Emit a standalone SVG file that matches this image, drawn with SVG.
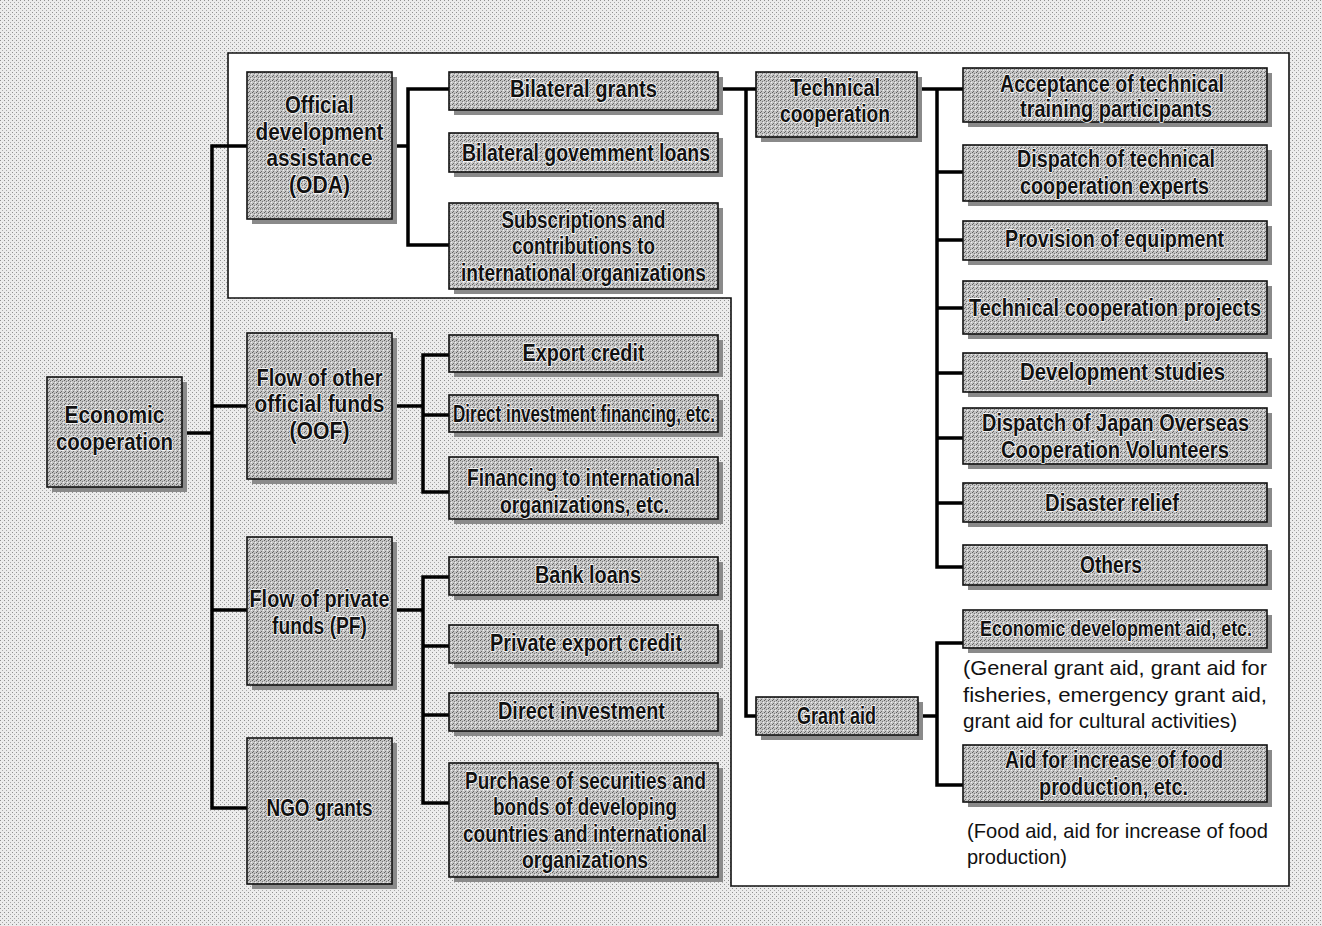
<svg xmlns="http://www.w3.org/2000/svg" width="1322" height="926" viewBox="0 0 1322 926">
<defs>
<pattern id="bgpat" width="4" height="4" patternUnits="userSpaceOnUse">
<rect width="4" height="4" fill="#ececec"/>
<rect x="0" y="0" width="1" height="1" fill="#8f8f8f"/>
<rect x="2" y="2" width="1" height="1" fill="#a8a8a8"/>
</pattern>
<pattern id="boxpat" width="4" height="4" patternUnits="userSpaceOnUse">
<rect width="4" height="4" fill="#c4c4c4"/>
<rect x="0" y="0" width="1" height="1" fill="#5e5e5e"/>
<rect x="2" y="1" width="1" height="1" fill="#7a7a7a"/>
<rect x="1" y="3" width="1" height="1" fill="#6a6a6a"/>
<rect x="3" y="2" width="1" height="1" fill="#f0f0f0"/>
</pattern>
<style>
.box{fill:url(#boxpat);stroke:#111;stroke-width:1.6}
.sh{fill:#8a8a8a}
.t{font-family:"Liberation Sans",Arial,sans-serif;font-weight:bold;font-size:23px;fill:#111;text-anchor:middle;stroke:#fff;stroke-width:1.6;paint-order:stroke;stroke-linejoin:round}
.n{font-family:"Liberation Sans",Arial,sans-serif;font-size:21px;fill:#111}
.c{fill:none;stroke:#000;stroke-width:3.5;stroke-linecap:square}
.frame{fill:#fff;stroke:#111;stroke-width:1.6}
</style>
</defs>
<rect width="1322" height="926" fill="url(#bgpat)"/>
<polygon class="frame" points="228,53 1289,53 1289,886 731,886 731,298 228,298"/>

<g id="connectors">
<path class="c" d="M182,433 H212 M212,146 V808 M212,146 H247 M212,406 H247 M212,610 H247 M212,808 H247"/>
<path class="c" d="M392,146 H408 M408,89 V245 M408,89 H449 M408,245 H449"/>
<path class="c" d="M392,406 H423 M423,355 V492 M423,355 H449 M423,415 H449 M423,492 H449"/>
<path class="c" d="M392,610 H423 M423,577 V803 M423,577 H449 M423,646 H449 M423,715 H449 M423,803 H449"/>
<path class="c" d="M718,89 H756 M746,89 V716 H756"/>
<path class="c" d="M917,89 H963 M937,89 V567 M937,172 H963 M937,240 H963 M937,308 H963 M937,373 H963 M937,438 H963 M937,503 H963 M937,567 H963"/>
<path class="c" d="M918,716 H937 M937,643 V785 M937,643 H963 M937,785 H963"/>
</g>

<g id="n-economic"><rect class="sh" x="52" y="382" width="135" height="110"/><rect class="box" x="47" y="377" width="135" height="110"/><text class="t" x="114.5" y="423" textLength="100" lengthAdjust="spacingAndGlyphs">Economic</text><text class="t" x="114.5" y="450" textLength="117" lengthAdjust="spacingAndGlyphs">cooperation</text></g>

<g id="n-oda"><rect class="sh" x="252" y="77" width="145" height="147"/><rect class="box" x="247" y="72" width="145" height="147"/><text class="t" x="319.5" y="113" textLength="69" lengthAdjust="spacingAndGlyphs">Official</text><text class="t" x="319.5" y="140" textLength="128" lengthAdjust="spacingAndGlyphs">development</text><text class="t" x="319.5" y="166" textLength="106" lengthAdjust="spacingAndGlyphs">assistance</text><text class="t" x="319.5" y="193" textLength="61" lengthAdjust="spacingAndGlyphs">(ODA)</text></g>

<g id="n-oof"><rect class="sh" x="252" y="338" width="145" height="146"/><rect class="box" x="247" y="333" width="145" height="146"/><text class="t" x="319.5" y="386" textLength="126" lengthAdjust="spacingAndGlyphs">Flow of other</text><text class="t" x="319.5" y="412" textLength="130" lengthAdjust="spacingAndGlyphs">official funds</text><text class="t" x="319.5" y="439" textLength="60" lengthAdjust="spacingAndGlyphs">(OOF)</text></g>

<g id="n-pf"><rect class="sh" x="252" y="542" width="145" height="148"/><rect class="box" x="247" y="537" width="145" height="148"/><text class="t" x="319.5" y="607" textLength="140" lengthAdjust="spacingAndGlyphs">Flow of private</text><text class="t" x="319.5" y="634" textLength="95" lengthAdjust="spacingAndGlyphs">funds (PF)</text></g>

<g id="n-ngo"><rect class="sh" x="252" y="743" width="145" height="146"/><rect class="box" x="247" y="738" width="145" height="146"/><text class="t" x="319.5" y="816" textLength="106" lengthAdjust="spacingAndGlyphs">NGO grants</text></g>

<g id="n-bilateral-grants"><rect class="sh" x="454" y="77" width="269" height="38"/><rect class="box" x="449" y="72" width="269" height="38"/><text class="t" x="583.5" y="97" textLength="147" lengthAdjust="spacingAndGlyphs">Bilateral grants</text></g>

<g id="n-bilateral-loans"><rect class="sh" x="454" y="138" width="269" height="39"/><rect class="box" x="449" y="133" width="269" height="39"/><text class="t" x="586" y="161" textLength="248" lengthAdjust="spacingAndGlyphs">Bilateral govemment loans</text></g>

<g id="n-subscriptions"><rect class="sh" x="454" y="208" width="269" height="86"/><rect class="box" x="449" y="203" width="269" height="86"/><text class="t" x="583.5" y="228" textLength="164" lengthAdjust="spacingAndGlyphs">Subscriptions and</text><text class="t" x="583.5" y="254" textLength="143" lengthAdjust="spacingAndGlyphs">contributions to</text><text class="t" x="583.5" y="281" textLength="245" lengthAdjust="spacingAndGlyphs">international organizations</text></g>

<g id="n-export-credit"><rect class="sh" x="454" y="340" width="269" height="37"/><rect class="box" x="449" y="335" width="269" height="37"/><text class="t" x="583.5" y="361" textLength="122" lengthAdjust="spacingAndGlyphs">Export credit</text></g>

<g id="n-dif"><rect class="sh" x="454" y="400" width="269" height="37"/><rect class="box" x="449" y="395" width="269" height="37"/><text class="t" x="584" y="422" textLength="262" lengthAdjust="spacingAndGlyphs">Direct investment financing, etc.</text></g>

<g id="n-financing"><rect class="sh" x="454" y="462" width="269" height="62"/><rect class="box" x="449" y="457" width="269" height="62"/><text class="t" x="583.5" y="486" textLength="233" lengthAdjust="spacingAndGlyphs">Financing to international</text><text class="t" x="584.5" y="513" textLength="169" lengthAdjust="spacingAndGlyphs">organizations, etc.</text></g>

<g id="n-bank-loans"><rect class="sh" x="454" y="562" width="269" height="38"/><rect class="box" x="449" y="557" width="269" height="38"/><text class="t" x="588" y="583" textLength="106" lengthAdjust="spacingAndGlyphs">Bank loans</text></g>

<g id="n-private-export"><rect class="sh" x="454" y="630" width="269" height="38"/><rect class="box" x="449" y="625" width="269" height="38"/><text class="t" x="586" y="651" textLength="192" lengthAdjust="spacingAndGlyphs">Private export credit</text></g>

<g id="n-direct-investment"><rect class="sh" x="454" y="698" width="269" height="38"/><rect class="box" x="449" y="693" width="269" height="38"/><text class="t" x="581.5" y="719" textLength="167" lengthAdjust="spacingAndGlyphs">Direct investment</text></g>

<g id="n-purchase"><rect class="sh" x="454" y="768" width="269" height="114"/><rect class="box" x="449" y="763" width="269" height="114"/><text class="t" x="585.5" y="789" textLength="241" lengthAdjust="spacingAndGlyphs">Purchase of securities and</text><text class="t" x="585" y="815" textLength="184" lengthAdjust="spacingAndGlyphs">bonds of developing</text><text class="t" x="585" y="842" textLength="244" lengthAdjust="spacingAndGlyphs">countries and international</text><text class="t" x="585" y="868" textLength="126" lengthAdjust="spacingAndGlyphs">organizations</text></g>

<g id="n-technical"><rect class="sh" x="761" y="77" width="161" height="65"/><rect class="box" x="756" y="72" width="161" height="65"/><text class="t" x="835" y="96" textLength="90" lengthAdjust="spacingAndGlyphs">Technical</text><text class="t" x="835" y="122" textLength="110" lengthAdjust="spacingAndGlyphs">cooperation</text></g>

<g id="n-grant-aid"><rect class="sh" x="761" y="702" width="162" height="38"/><rect class="box" x="756" y="697" width="162" height="38"/><text class="t" x="836.5" y="724" textLength="79" lengthAdjust="spacingAndGlyphs">Grant aid</text></g>

<g id="n-acceptance"><rect class="sh" x="968" y="73" width="304" height="54"/><rect class="box" x="963" y="68" width="304" height="54"/><text class="t" x="1112" y="92" textLength="224" lengthAdjust="spacingAndGlyphs">Acceptance of technical</text><text class="t" x="1116" y="117" textLength="192" lengthAdjust="spacingAndGlyphs">training participants</text></g>

<g id="n-dispatch-experts"><rect class="sh" x="968" y="150" width="304" height="56"/><rect class="box" x="963" y="145" width="304" height="56"/><text class="t" x="1116" y="167" textLength="198" lengthAdjust="spacingAndGlyphs">Dispatch of technical</text><text class="t" x="1114.5" y="194" textLength="189" lengthAdjust="spacingAndGlyphs">cooperation experts</text></g>

<g id="n-provision"><rect class="sh" x="968" y="226" width="304" height="39"/><rect class="box" x="963" y="221" width="304" height="39"/><text class="t" x="1114.5" y="247" textLength="219" lengthAdjust="spacingAndGlyphs">Provision of equipment</text></g>

<g id="n-tc-projects"><rect class="sh" x="968" y="286" width="304" height="53"/><rect class="box" x="963" y="281" width="304" height="53"/><text class="t" x="1115" y="316" textLength="292" lengthAdjust="spacingAndGlyphs">Technical cooperation projects</text></g>

<g id="n-dev-studies"><rect class="sh" x="968" y="358" width="304" height="39"/><rect class="box" x="963" y="353" width="304" height="39"/><text class="t" x="1122.5" y="380" textLength="205" lengthAdjust="spacingAndGlyphs">Development studies</text></g>

<g id="n-jocv"><rect class="sh" x="968" y="413" width="304" height="56"/><rect class="box" x="963" y="408" width="304" height="56"/><text class="t" x="1115.5" y="431" textLength="267" lengthAdjust="spacingAndGlyphs">Dispatch of Japan Overseas</text><text class="t" x="1115" y="458" textLength="228" lengthAdjust="spacingAndGlyphs">Cooperation Volunteers</text></g>

<g id="n-disaster"><rect class="sh" x="968" y="488" width="304" height="39"/><rect class="box" x="963" y="483" width="304" height="39"/><text class="t" x="1112" y="511" textLength="134" lengthAdjust="spacingAndGlyphs">Disaster relief</text></g>

<g id="n-others"><rect class="sh" x="968" y="550" width="304" height="40"/><rect class="box" x="963" y="545" width="304" height="40"/><text class="t" x="1111" y="573" textLength="62" lengthAdjust="spacingAndGlyphs">Others</text></g>

<g id="n-econ-dev-aid"><rect class="sh" x="968" y="615" width="304" height="38"/><rect class="box" x="963" y="610" width="304" height="38"/><text class="t" x="1116" y="636" style="font-size:22px" textLength="272" lengthAdjust="spacingAndGlyphs">Economic development aid, etc.</text></g>

<g id="n-food-aid"><rect class="sh" x="968" y="750" width="304" height="57"/><rect class="box" x="963" y="745" width="304" height="57"/><text class="t" x="1114" y="768" textLength="218" lengthAdjust="spacingAndGlyphs">Aid for increase of food</text><text class="t" x="1113.5" y="795" textLength="149" lengthAdjust="spacingAndGlyphs">production, etc.</text></g>

<g id="notes">
<text class="n" x="963" y="675" textLength="304" lengthAdjust="spacingAndGlyphs">(General grant aid, grant aid for</text>
<text class="n" x="963" y="702" textLength="304" lengthAdjust="spacingAndGlyphs">fisheries, emergency grant aid,</text>
<text class="n" x="963" y="728" textLength="274" lengthAdjust="spacingAndGlyphs">grant aid for cultural activities)</text>
<text class="n" x="967" y="838" textLength="301" lengthAdjust="spacingAndGlyphs">(Food aid, aid for increase of food</text>
<text class="n" x="967" y="864" textLength="100" lengthAdjust="spacingAndGlyphs">production)</text>
</g>
</svg>
